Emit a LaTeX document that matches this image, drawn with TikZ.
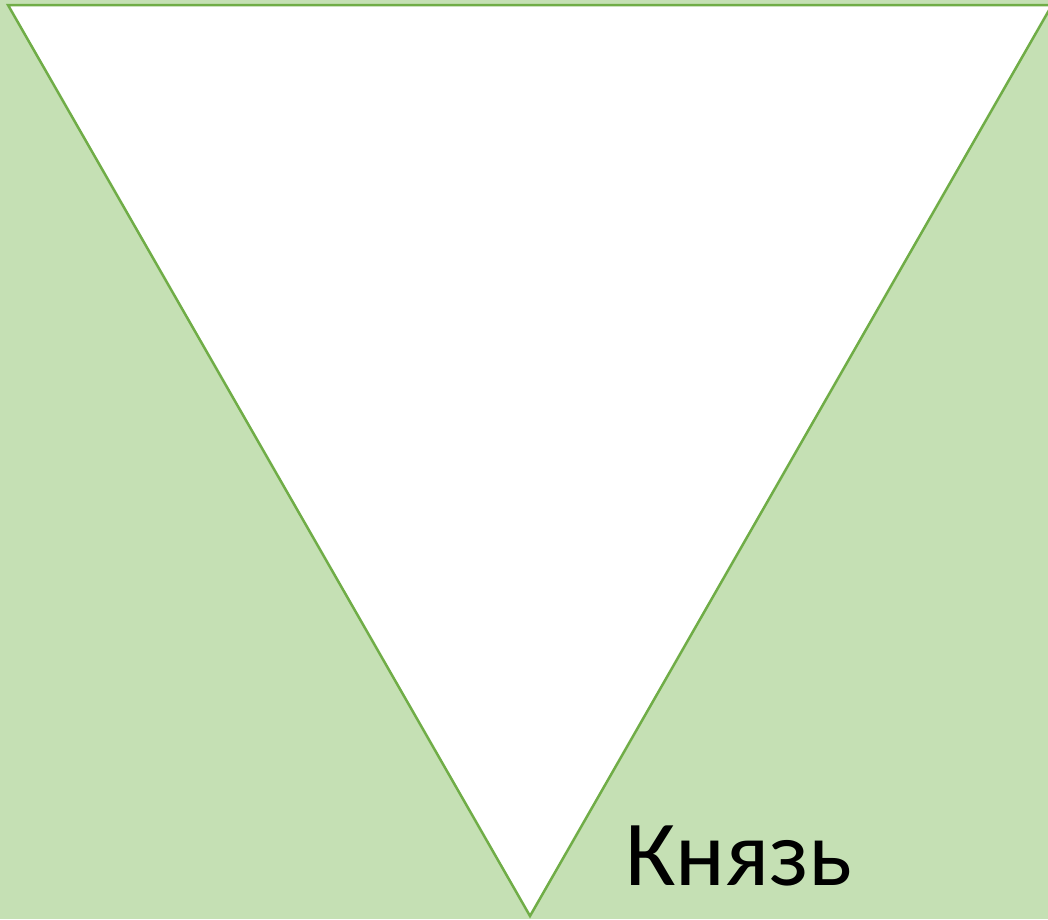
\documentclass[tikz,border=0pt]{standalone}
\usepackage{fontspec}
\setmainfont{Carlito}
\definecolor{bgG}{HTML}{C5E0B4}
\definecolor{lnG}{HTML}{70AD47}
\begin{document}
\begin{tikzpicture}[x=1pt,y=-1pt,
  tri/.style={draw=lnG,fill=white,line width=2.5pt,line join=miter},
  lbl/.style={anchor=base west,inner sep=0pt,font=\fontsize{93}{100}\selectfont}]
\fill[bgG] (0,0) rectangle (1048,919);
\useasboundingbox (0,0) rectangle (1048,919);
\coordinate (tl) at (8,5);
\coordinate (tr) at (1052,5);
\coordinate (ap) at (530,916);
\draw[tri] (tl) -- (tr) -- (ap) -- cycle;
\node[lbl] (k) at (625,885) {Князь};
\end{tikzpicture}
\end{document}
